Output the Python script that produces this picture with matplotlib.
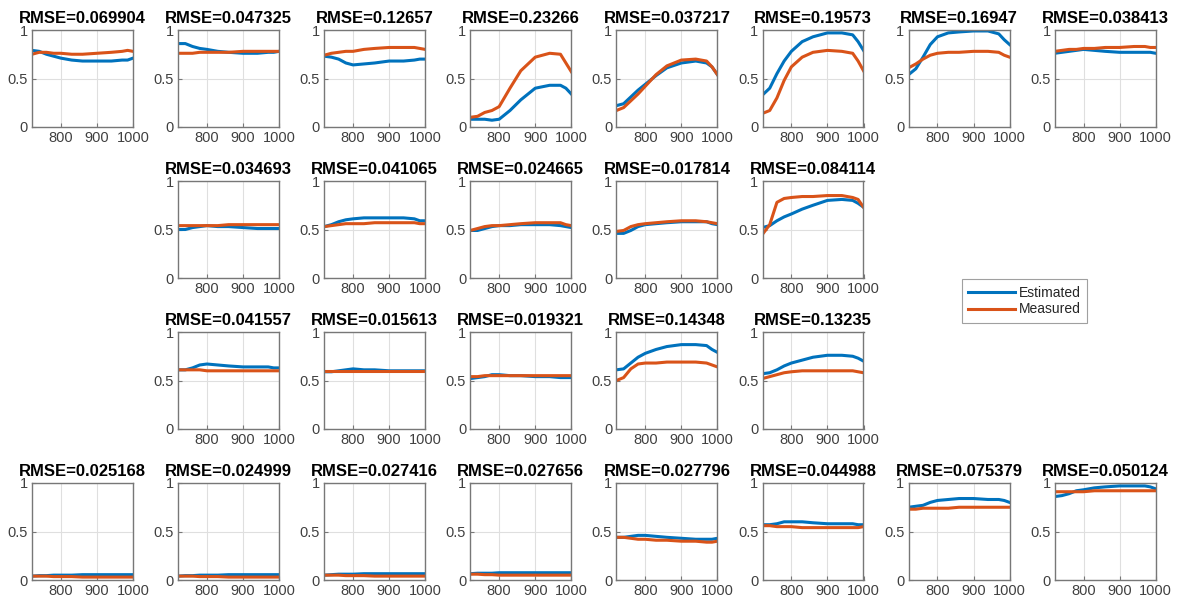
import matplotlib
matplotlib.use("Agg")
import matplotlib.pyplot as plt

plt.rcParams['font.family'] = ['Liberation Sans', 'DejaVu Sans']

# wavelength samples (nm)
wavelength = [720, 740, 760, 780, 800, 830, 860, 900, 940, 970, 985, 1000]

rmse_labels = ['0.069904', '0.047325', '0.12657', '0.23266', '0.037217', '0.19573', '0.16947', '0.038413',
               '0.034693', '0.041065', '0.024665', '0.017814', '0.084114',
               '0.041557', '0.015613', '0.019321', '0.14348', '0.13235',
               '0.025168', '0.024999', '0.027416', '0.027656', '0.027796', '0.044988', '0.075379', '0.050124']

estimated = [
    [0.79, 0.78, 0.75, 0.73, 0.71, 0.69, 0.68, 0.68, 0.68, 0.69, 0.69, 0.71],
    [0.86, 0.86, 0.83, 0.81, 0.80, 0.78, 0.77, 0.76, 0.76, 0.77, 0.77, 0.78],
    [0.73, 0.72, 0.70, 0.66, 0.64, 0.65, 0.66, 0.68, 0.68, 0.69, 0.70, 0.70],
    [0.08, 0.08, 0.08, 0.07, 0.08, 0.17, 0.28, 0.40, 0.43, 0.43, 0.40, 0.34],
    [0.22, 0.24, 0.31, 0.38, 0.44, 0.53, 0.61, 0.66, 0.68, 0.66, 0.62, 0.54],
    [0.33, 0.40, 0.55, 0.68, 0.78, 0.88, 0.93, 0.97, 0.97, 0.95, 0.88, 0.79],
    [0.54, 0.60, 0.72, 0.85, 0.93, 0.97, 0.98, 0.99, 0.99, 0.96, 0.90, 0.85],
    [0.76, 0.77, 0.78, 0.79, 0.80, 0.79, 0.78, 0.77, 0.77, 0.77, 0.77, 0.76],
    [0.50, 0.50, 0.52, 0.53, 0.54, 0.53, 0.53, 0.52, 0.51, 0.51, 0.51, 0.51],
    [0.53, 0.55, 0.58, 0.60, 0.61, 0.62, 0.62, 0.62, 0.62, 0.61, 0.59, 0.59],
    [0.49, 0.49, 0.51, 0.53, 0.54, 0.54, 0.55, 0.55, 0.55, 0.54, 0.53, 0.52],
    [0.46, 0.46, 0.49, 0.53, 0.55, 0.56, 0.57, 0.58, 0.58, 0.58, 0.56, 0.55],
    [0.52, 0.54, 0.59, 0.63, 0.66, 0.71, 0.75, 0.80, 0.81, 0.80, 0.77, 0.73],
    [0.61, 0.61, 0.63, 0.66, 0.67, 0.66, 0.65, 0.64, 0.64, 0.64, 0.63, 0.63],
    [0.59, 0.59, 0.60, 0.61, 0.62, 0.61, 0.61, 0.60, 0.60, 0.60, 0.60, 0.60],
    [0.52, 0.53, 0.54, 0.56, 0.56, 0.55, 0.55, 0.54, 0.54, 0.53, 0.53, 0.53],
    [0.61, 0.62, 0.68, 0.74, 0.78, 0.82, 0.85, 0.87, 0.87, 0.86, 0.82, 0.79],
    [0.57, 0.58, 0.61, 0.65, 0.68, 0.71, 0.74, 0.76, 0.76, 0.75, 0.73, 0.70],
    [0.040, 0.045, 0.045, 0.050, 0.050, 0.050, 0.055, 0.055, 0.055, 0.055, 0.055, 0.055],
    [0.040, 0.045, 0.045, 0.050, 0.050, 0.050, 0.055, 0.055, 0.055, 0.055, 0.055, 0.055],
    [0.050, 0.055, 0.060, 0.060, 0.060, 0.065, 0.065, 0.065, 0.065, 0.065, 0.065, 0.065],
    [0.065, 0.070, 0.070, 0.070, 0.075, 0.075, 0.075, 0.075, 0.075, 0.075, 0.075, 0.075],
    [0.44, 0.44, 0.45, 0.46, 0.46, 0.45, 0.44, 0.43, 0.42, 0.42, 0.42, 0.43],
    [0.57, 0.57, 0.58, 0.60, 0.60, 0.60, 0.59, 0.58, 0.58, 0.58, 0.57, 0.57],
    [0.75, 0.76, 0.77, 0.80, 0.82, 0.83, 0.84, 0.84, 0.83, 0.83, 0.82, 0.80],
    [0.86, 0.87, 0.89, 0.92, 0.93, 0.95, 0.96, 0.97, 0.97, 0.97, 0.96, 0.94],
]

measured = [
    [0.75, 0.77, 0.77, 0.76, 0.76, 0.75, 0.75, 0.76, 0.77, 0.78, 0.79, 0.78],
    [0.76, 0.76, 0.76, 0.77, 0.77, 0.77, 0.77, 0.78, 0.78, 0.78, 0.78, 0.78],
    [0.74, 0.76, 0.77, 0.78, 0.78, 0.80, 0.81, 0.82, 0.82, 0.82, 0.81, 0.80],
    [0.10, 0.11, 0.15, 0.17, 0.21, 0.40, 0.58, 0.72, 0.76, 0.75, 0.66, 0.57],
    [0.17, 0.20, 0.27, 0.34, 0.42, 0.54, 0.63, 0.69, 0.70, 0.68, 0.62, 0.54],
    [0.14, 0.17, 0.30, 0.48, 0.62, 0.72, 0.77, 0.79, 0.78, 0.76, 0.68, 0.58],
    [0.61, 0.65, 0.70, 0.74, 0.76, 0.77, 0.77, 0.78, 0.78, 0.77, 0.74, 0.72],
    [0.78, 0.79, 0.80, 0.80, 0.81, 0.81, 0.82, 0.82, 0.83, 0.83, 0.82, 0.82],
    [0.54, 0.54, 0.54, 0.54, 0.54, 0.54, 0.55, 0.55, 0.55, 0.55, 0.55, 0.55],
    [0.53, 0.54, 0.55, 0.56, 0.56, 0.56, 0.57, 0.57, 0.57, 0.57, 0.56, 0.56],
    [0.49, 0.51, 0.53, 0.54, 0.54, 0.55, 0.56, 0.57, 0.57, 0.57, 0.55, 0.54],
    [0.48, 0.49, 0.53, 0.55, 0.56, 0.57, 0.58, 0.59, 0.59, 0.58, 0.57, 0.56],
    [0.45, 0.55, 0.78, 0.82, 0.83, 0.84, 0.84, 0.85, 0.85, 0.83, 0.81, 0.73],
    [0.61, 0.61, 0.61, 0.61, 0.60, 0.60, 0.60, 0.60, 0.60, 0.60, 0.60, 0.60],
    [0.60, 0.60, 0.60, 0.60, 0.60, 0.60, 0.60, 0.60, 0.60, 0.60, 0.60, 0.60],
    [0.54, 0.54, 0.55, 0.55, 0.55, 0.55, 0.55, 0.55, 0.55, 0.55, 0.55, 0.55],
    [0.50, 0.53, 0.62, 0.67, 0.68, 0.68, 0.69, 0.69, 0.69, 0.68, 0.66, 0.64],
    [0.52, 0.54, 0.56, 0.58, 0.59, 0.60, 0.60, 0.60, 0.60, 0.60, 0.59, 0.58],
    [0.040, 0.040, 0.040, 0.035, 0.035, 0.035, 0.030, 0.030, 0.030, 0.030, 0.030, 0.030],
    [0.040, 0.040, 0.040, 0.035, 0.035, 0.035, 0.030, 0.030, 0.030, 0.030, 0.030, 0.030],
    [0.050, 0.050, 0.050, 0.045, 0.045, 0.045, 0.040, 0.040, 0.040, 0.040, 0.040, 0.040],
    [0.060, 0.060, 0.055, 0.055, 0.050, 0.050, 0.050, 0.050, 0.050, 0.050, 0.050, 0.050],
    [0.44, 0.44, 0.43, 0.42, 0.42, 0.41, 0.41, 0.40, 0.40, 0.39, 0.39, 0.40],
    [0.56, 0.56, 0.55, 0.55, 0.55, 0.54, 0.54, 0.54, 0.54, 0.54, 0.54, 0.55],
    [0.73, 0.73, 0.74, 0.74, 0.74, 0.74, 0.75, 0.75, 0.75, 0.75, 0.75, 0.75],
    [0.91, 0.91, 0.91, 0.91, 0.91, 0.92, 0.92, 0.92, 0.92, 0.92, 0.92, 0.92],
]

# grid slots (row, col) for each panel
slots = [(0, c) for c in range(8)] + [(1, c) for c in range(1, 6)] + \
        [(2, c) for c in range(1, 6)] + [(3, c) for c in range(8)]

W, H = 1178, 605
fig = plt.figure(figsize=(W / 100, H / 100), dpi=100)

col_left = 32
col_step = 146.1
ax_w = 101
row_top = [30, 181, 332, 483]
ax_h = 97

blue = '#0072BD'
orange = '#D95319'
axcol = '#404040'

lines = None
for i, (r, c) in enumerate(slots):
    x0 = (col_left + c * col_step) / W
    y0 = 1 - (row_top[r] + ax_h) / H
    ax = fig.add_axes([x0, y0, ax_w / W, ax_h / H])
    l1, = ax.plot(wavelength, estimated[i], color=blue, lw=2.2, label='Estimated')
    l2, = ax.plot(wavelength, measured[i], color=orange, lw=2.2, label='Measured')
    lines = [l1, l2]
    ax.set_xlim(720, 1000)
    ax.set_ylim(0, 1)
    ax.set_xticks([800, 900, 1000])
    ax.set_yticks([0, 0.5, 1])
    ax.set_yticklabels(['0', '0.5', '1'])
    ax.grid(True, color='#dfdfdf', lw=0.8)
    ax.set_axisbelow(True)
    ax.tick_params(direction='in', length=3, width=0.8, colors='#777777',
                   labelcolor=axcol, labelsize=10.5, pad=3)
    for s in ax.spines.values():
        s.set_color('#777777')
        s.set_linewidth(1.0)
    ax.set_title('RMSE=' + rmse_labels[i], fontsize=12, fontweight='bold', pad=5)

leg = fig.legend(lines, ['Estimated', 'Measured'], loc='center',
                 bbox_to_anchor=(1024.5 / W, 1 - 301 / H), fontsize=10,
                 frameon=True, fancybox=False, edgecolor='#888888',
                 handlelength=3.4, handletextpad=0.25, labelspacing=0.2,
                 borderpad=0.45, borderaxespad=0)
leg.get_frame().set_linewidth(0.8)
for t in leg.get_texts():
    t.set_color('#262626')

fig.savefig('out.png', dpi=100, facecolor='white')
